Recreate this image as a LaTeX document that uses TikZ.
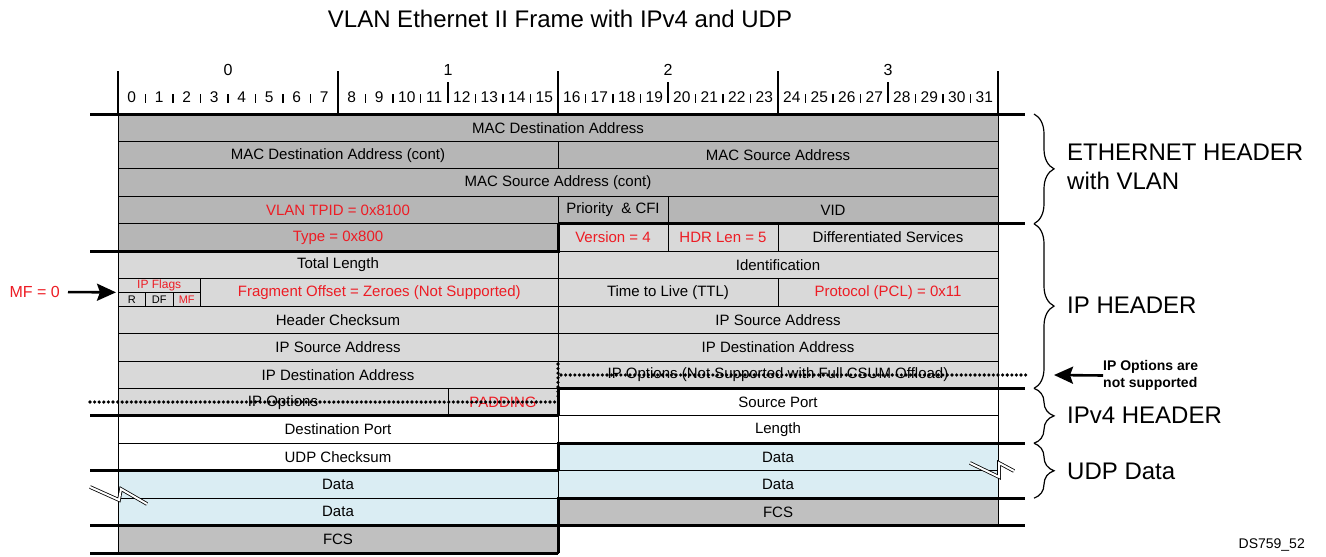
\documentclass[tikz,border=0pt]{standalone}
\usepackage{fontspec}
\setmainfont{Liberation Sans}
\usetikzlibrary{decorations.pathreplacing,arrows.meta}
\definecolor{ethgray}{RGB}{182,182,182}
\definecolor{fcsgray}{RGB}{192,192,192}
\definecolor{ipgray}{RGB}{217,217,217}
\definecolor{datablue}{RGB}{218,237,243}
\definecolor{redtext}{RGB}{237,28,36}
\newcommand\cellfont{\fontsize{15}{18}\selectfont}
\newcommand\mkcell[6]{\node[cellbase,#5,minimum width={(#3)-(#2)}] (#1) at ({((#2)+(#3))/2},{114+((#4)-0.5)*27.44}) {#6};}
\tikzset{
  cellbase/.style={draw=black, line width=0.8pt, inner sep=0pt, outer sep=0pt, minimum height=27.44pt, font=\cellfont, text=black},
  eth/.style={fill=ethgray},
  ipc/.style={fill=ipgray},
  udpc/.style={fill=white},
  datc/.style={fill=datablue},
  fcsc/.style={fill=fcsgray},
  redtxt/.style={text=redtext},
  sepline/.style={line width=3pt},
  dotline/.style={line width=3.6pt, dash pattern=on 0pt off 4.6pt, line cap=round},
  longtick/.style={line width=1.6pt},
  shorttick/.style={line width=1.1pt},
  bitnum/.style={font=\fontsize{15.5}{18}\selectfont, inner sep=0pt},
  bytenum/.style={font=\fontsize{16}{18}\selectfont, inner sep=0pt},
  grouplabel/.style={font=\fontsize{24}{29}\selectfont, anchor=west, align=left, inner sep=0pt},
  grpbrace/.style={decorate, decoration={brace, amplitude=20pt}, line width=1.2pt},
  pointer/.style={line width=2.6pt, -{Stealth[length=19pt,width=17pt,inset=3pt]}},
  breakmark/.style={draw=black, double=white, double distance=2pt, line width=0.8pt},
}
\begin{document}
\begin{tikzpicture}[x=1pt,y=-1pt]
\useasboundingbox (0,0) rectangle (1326,557);
% title
\node[font=\fontsize{24}{27}\selectfont] (title) at (560,19) {VLAN Ethernet II Frame with IPv4 and UDP};
% ruler
\foreach \i in {0,...,31} \node[bitnum] (b\i) at ({118+(\i+0.5)*27.5},97) {\i};
\foreach \j/\c in {0/228,1/448,2/668,3/888} \node[bytenum] (byte\j) at (\c,70) {\j};
\foreach \i in {1,2,3,4,5,6,7,9,10,11,13,14,15,17,18,19,21,22,23,25,26,27,29,30,31}
  \draw[shorttick] ({118+\i*27.5},94) -- ++(0,9);
\foreach \i in {12,20,28} \draw[longtick] ({118+\i*27.5},82) -- (118+\i*27.5,103);
\foreach \i in {0,8,16,24,32} \draw[longtick] ({118+\i*27.5},71) -- ({118+\i*27.5},114);
% cells
\mkcell{macdst}{118}{998}{1}{eth}{MAC Destination Address}
\mkcell{macdstc}{118}{558}{2}{eth}{MAC Destination Address (cont)}
\mkcell{macsrc}{558}{998}{2}{eth}{MAC Source Address}
\mkcell{macsrcc}{118}{998}{3}{eth}{MAC Source Address (cont)}
\mkcell{tpid}{118}{558}{4}{eth,redtxt}{VLAN TPID = 0x8100}
\mkcell{prio}{558}{668}{4}{eth}{Priority \ \& CFI}
\mkcell{vid}{668}{998}{4}{eth}{VID}
\mkcell{type}{118}{558}{5}{eth,redtxt}{Type = 0x800}
\mkcell{ver}{558}{668}{5}{ipc,redtxt}{Version = 4}
\mkcell{hdr}{668}{778}{5}{ipc,redtxt}{HDR Len = 5}
\mkcell{dsrv}{778}{998}{5}{ipc}{Differentiated Services}
\mkcell{totlen}{118}{558}{6}{ipc}{Total Length}
\mkcell{ident}{558}{998}{6}{ipc}{Identification}
\node[cellbase,ipc,redtxt,minimum width=82.5,minimum height=13.72,font=\fontsize{12}{14}\selectfont] (flagtop) at (159.25,285.5) {IP Flags};
\node[cellbase,ipc,minimum width=27.5,minimum height=13.72,font=\fontsize{11}{13}\selectfont] (flagR) at (131.75,299.22) {R};
\node[cellbase,ipc,minimum width=27.5,minimum height=13.72,font=\fontsize{11}{13}\selectfont] (flagDF) at (159.25,299.22) {DF};
\node[cellbase,ipc,redtxt,minimum width=27.5,minimum height=13.72,font=\fontsize{11}{13}\selectfont] (flagMF) at (186.75,299.22) {MF};
\mkcell{frag}{200.5}{558}{7}{ipc,redtxt}{Fragment Offset = Zeroes (Not Supported)}
\mkcell{ttl}{558}{778}{7}{ipc}{Time to Live (TTL)}
\mkcell{proto}{778}{998}{7}{ipc,redtxt}{Protocol (PCL) = 0x11}
\mkcell{hcs}{118}{558}{8}{ipc}{Header Checksum}
\mkcell{srcR}{558}{998}{8}{ipc}{IP Source Address}
\mkcell{srcL}{118}{558}{9}{ipc}{IP Source Address}
\mkcell{dstR}{558}{998}{9}{ipc}{IP Destination Address}
\mkcell{dstL}{118}{558}{10}{ipc}{IP Destination Address}
\mkcell{optR}{558}{998}{10}{ipc}{IP Options (Not Supported with Full CSUM Offload)}
\mkcell{optL}{118}{448}{11}{ipc}{IP Options}
\mkcell{pad}{448}{558}{11}{ipc,redtxt}{PADDING}
\mkcell{sport}{558}{998}{11}{udpc}{Source Port}
\mkcell{dport}{118}{558}{12}{udpc}{Destination Port}
\mkcell{len}{558}{998}{12}{udpc}{Length}
\mkcell{ucs}{118}{558}{13}{udpc}{UDP Checksum}
\mkcell{dataA}{558}{998}{13}{datc}{Data}
\mkcell{dataB}{118}{558}{14}{datc}{Data}
\mkcell{dataC}{558}{998}{14}{datc}{Data}
\mkcell{dataD}{118}{558}{15}{datc}{Data}
\mkcell{fcsR}{558}{998}{15}{fcsc}{FCS}
\mkcell{fcsL}{118}{558}{16}{fcsc}{FCS}
% section separators
\draw[sepline] (90,114) -- (1025,114);
\draw[sepline] (558,223.76) -- (1025,223.76);
\draw[sepline] (90,251.2) -- (558,251.2) -- (558,223.76);
\draw[sepline] (558,415.84) -- (558,388.4) -- (1025,388.4);
\draw[sepline] (90,415.84) -- (558,415.84);
\draw[sepline] (558,470.72) -- (558,443.28) -- (1025,443.28);
\draw[sepline] (90,470.72) -- (558,470.72);
\draw[sepline] (558,553.04) -- (558,498.16) -- (1025,498.16);
\draw[sepline] (90,525.6) -- (1025,525.6);
\draw[sepline] (90,553.04) -- (558,553.04);
% dotted "not supported" strike-throughs
\draw[dotline] (561,375) -- (1026,375);
\draw[dotline] (90,402) -- (556,402);
\draw[dotline] (558,364) -- (558,400);
% break marks
\draw[breakmark] (90,487) -- (119,500) -- (121,489) -- (147,504);
\draw[breakmark] (970,463) -- (999,477) -- (999,463) -- (1014,471);
% braces
\draw[grpbrace] (1034,114) -- (1034,223.76);
\draw[grpbrace] (1034,223.76) -- (1034,388.4);
\draw[grpbrace] (1034,388.4) -- (1034,443.28);
\draw[grpbrace] (1034,443.28) -- (1034,498.16);
\node[grouplabel] (ethlabel) at (1067,167) {ETHERNET HEADER\\with VLAN};
\node[grouplabel] (iplabel) at (1067,305) {IP HEADER};
\node[grouplabel] (ipv4label) at (1067,415) {IPv4 HEADER};
\node[grouplabel] (udplabel) at (1067,471) {UDP Data};
% notes
\node[font=\bfseries\fontsize{14}{17}\selectfont, anchor=west, align=left, inner sep=0pt] (ipnote) at (1103,375.5) {IP Options are\\not supported};
\coordinate (ipopttip) at (1054,375);
\draw[pointer] (ipnote.west) -- (ipopttip);
\node[font=\fontsize{16}{18}\selectfont, text=redtext, anchor=east, inner sep=0pt] (mf) at (60,292) {MF = 0};
\draw[pointer, shorten <=8pt, shorten >=2pt] (mf.east) -- (flagtop.south west);
\node[font=\fontsize{14}{16}\selectfont, anchor=east, inner sep=0pt] (ds) at (1305,545) {DS759\_52};
\end{tikzpicture}
\end{document}
